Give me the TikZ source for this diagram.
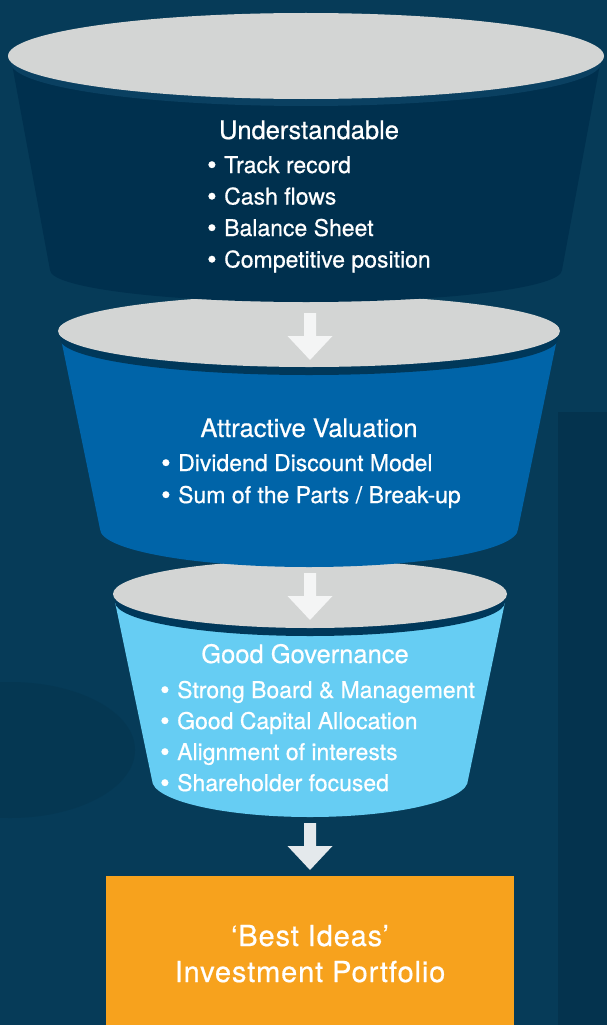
\documentclass[tikz,border=0pt]{standalone}
\usepackage{fontspec}
\setmainfont[FakeBold=0.6]{TeX Gyre Heros}
\definecolor{bgblue}{HTML}{063B58}
\definecolor{bgdark}{HTML}{04334E}
\definecolor{bgshade}{HTML}{053752}
\definecolor{lid}{HTML}{D3D5D4}
\definecolor{navy}{HTML}{00304E}
\definecolor{navyrim}{HTML}{0A4061}
\definecolor{midblue}{HTML}{0064A8}
\definecolor{skyblue}{HTML}{66CDF3}
\definecolor{darkrim}{HTML}{00385A}
\definecolor{orange}{HTML}{F7A21D}
\definecolor{arrowwhite}{HTML}{F4F5F5}
\definecolor{arrowgray}{HTML}{E4E9EC}
\tikzset{
  head/.style={text=white,anchor=base,inner sep=0pt,font=\fontsize{25.5}{30}\selectfont},
  item/.style={text=white,anchor=base west,inner sep=0pt,font=\fontsize{23}{28}\selectfont},
  bestidea/.style={text=white,anchor=base,inner sep=0pt,font=\fontsize{29}{34}\selectfont\addfontfeature{LetterSpace=3}}
}
\newcommand{\bul}{\makebox[17pt][l]{\raisebox{-1pt}{\fontsize{27}{27}\selectfont\textbullet}}}
\begin{document}
\begin{tikzpicture}[x=1pt,y=-1pt]
\useasboundingbox (0,0) rectangle (607,1025);
\fill[bgblue] (0,0) rectangle (607,1025);
\fill[bgdark] (558,412) rectangle (607,1025);
\fill[bgshade] (10,750) ellipse [x radius=125, y radius=68];
% good governance
\fill[skyblue] (115,602)--(152,780) arc[start angle=180,end angle=0,x radius=158,y radius=37]--(505,602)--cycle;
\fill[darkrim] (310,602) ellipse [x radius=195, y radius=34];
\fill[lid] (310,594) ellipse [x radius=197, y radius=34];
% attractive valuation
\fill[midblue] (61,339)--(100,529) arc[start angle=180,end angle=0,x radius=209,y radius=38]--(557,339)--cycle;
\fill[darkrim] (309,339) ellipse [x radius=249, y radius=36];
\fill[lid] (309,331) ellipse [x radius=251, y radius=36];
% understandable
\fill[navy] (12,64)--(50,270) arc[start angle=180,end angle=0,x radius=256,y radius=32]--(600,64)--cycle;
\fill[navyrim] (306,63) ellipse [x radius=295, y radius=43];
\fill[lid] (306,56) ellipse [x radius=298, y radius=43];
% arrows
\foreach \t/\c in {313/arrowwhite,573/arrowwhite,823/arrowgray}
  \fill[\c] (304,\t)--(316,\t)--(316,\t+23)--(332.5,\t+23)--(310,\t+47)--(287.5,\t+23)--(304,\t+23)--cycle;
% portfolio box
\node[fill=orange,minimum width=408pt,minimum height=170pt,anchor=north west,inner sep=0pt] (port) at (106,876) {};

\node[head] (und) at (309,139) {Understandable};
\node[item] (u1) at (207,173) {\bul Track record};
\node[item] (u2) at (207,204.5) {\bul Cash flows};
\node[item] (u3) at (207,236) {\bul Balance Sheet};
\node[item] (u4) at (207,267.5) {\bul Competitive position};

\node[head] (att) at (309,437) {Attractive Valuation};
\node[item] (v1) at (161,471) {\bul Dividend Discount Model};
\node[item] (v2) at (161,503) {\bul Sum of the Parts / Break-up};

\node[head] (gov) at (305,663) {Good Governance};
\node[item] (g1) at (160,698) {\bul Strong Board \& Management};
\node[item] (g2) at (160,729) {\bul Good Capital Allocation};
\node[item] (g3) at (160,760) {\bul Alignment of interests};
\node[item] (g4) at (160,791) {\bul Shareholder focused};

\node[bestidea] (best) at (310,946) {‘Best Ideas’};
\node[bestidea] (inv) at (310,982) {Investment Portfolio};
\end{tikzpicture}
\end{document}
